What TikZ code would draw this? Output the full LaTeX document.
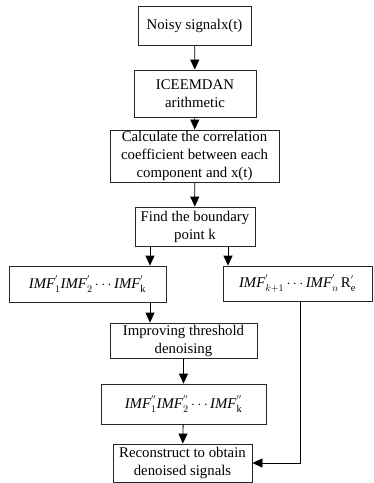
\documentclass[tikz,border=0pt]{standalone}
\usepackage{fontspec}
\setmainfont{Liberation Serif}
\usepackage{tikz}
\usetikzlibrary{arrows.meta}

\begin{document}
\begin{tikzpicture}
[
x=1pt, y=-1pt,
font=\fontsize{14.8}{18}\selectfont,
box/.style={
	draw=black!85,
	line width=0.8pt,
	rectangle,
	align=center,
	inner sep=0pt},
regArr/.style={
	-{Triangle[width=9pt,length=10pt]},
	line width=0.8pt}
]
\useasboundingbox (0,0) rectangle (373,483);

\node[box, minimum width=113pt, minimum height=39pt] (noisy) at (194.5,25.5) {Noisy signalx(t)};
\node[box, minimum width=122pt, minimum height=47pt] (icee) at (195,93.5) {ICEEMDAN\\arithmetic};
\node[box, minimum width=169pt, minimum height=52pt] (calc) at (194.5,156) {Calculate the correlation\\coefficient between each\\component and x(t)};
\node[box, minimum width=120pt, minimum height=39pt] (find) at (195,226.5) {Find the boundary\\point k};
\node[box, minimum width=157pt, minimum height=36pt] (imfL) at (87.5,284) {$\textit{IMF}_{1}^{'}\textit{IMF}_{2}^{'}\cdots\textit{IMF}_{\mathrm{k}}^{'}$};
\node[box, minimum width=149pt, minimum height=35pt] (imfR) at (297.5,283.5) {$\textit{IMF}_{k+1}^{'}\cdots\textit{IMF}_{n}^{'}\,\mathrm{R}_{\mathrm{e}}^{'}$};
\node[box, minimum width=147pt, minimum height=35pt] (impr) at (183.5,340.5) {Improving threshold\\denoising};
\node[box, minimum width=165pt, minimum height=40pt] (imfLL) at (183.5,404) {$\textit{IMF}_{1}^{''}\textit{IMF}_{2}^{''}\cdots\textit{IMF}_{\mathrm{k}}^{''}$};
\node[box, minimum width=139pt, minimum height=38pt] (recon) at (182.5,463) {Reconstruct to obtain\\denoised signals};

%main column
\draw [regArr] (noisy) -- (icee);
\draw [regArr] (icee) -- (calc);
\draw [regArr] (calc) -- (find);

%split at k
\draw [regArr] ([xshift=-45pt]find.south) -- ([xshift=-45pt]find.south |- imfL.north);
\draw [regArr] ([xshift=33pt]find.south) -- ([xshift=33pt]find.south |- imfR.north);

%left branch
\draw [regArr] ([xshift=62.5pt]imfL.south) -- ([xshift=62.5pt]imfL.south |- impr.north);
\draw [regArr] (impr) -- (imfLL);
\draw [regArr] (imfLL) -- (recon);

%right branch
\draw [regArr] ([xshift=2.5pt]imfR.south) |- (recon.east);

\end{tikzpicture}
\end{document}
